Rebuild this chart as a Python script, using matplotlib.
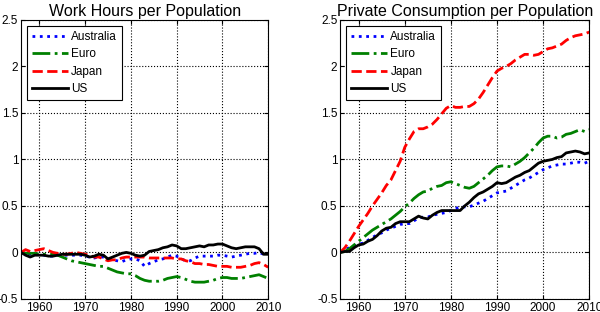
import matplotlib
matplotlib.use('Agg')
import matplotlib.pyplot as plt
import numpy as np

plt.rcParams['font.family'] = ['Liberation Sans', 'DejaVu Sans']

years = np.arange(1956, 2011)

# work hours per population (log deviation from 1956)
hours_aus = [0.0, -0.01, -0.02, -0.02, -0.02, -0.03, -0.04, -0.04, -0.03, -0.03,
             -0.03, -0.03, -0.03, -0.03, -0.04, -0.05, -0.06, -0.05, -0.05, -0.06,
             -0.08, -0.09, -0.1, -0.08, -0.07, -0.07, -0.09, -0.15, -0.12, -0.1,
             -0.08, -0.07, -0.05, -0.03, -0.04, -0.07, -0.09, -0.09, -0.06, -0.04,
             -0.04, -0.04, -0.04, -0.03, -0.03, -0.04, -0.05, -0.04, -0.03, -0.02,
             -0.01, -0.01, 0.0, -0.02, -0.02]
hours_euro = [0.0, -0.01, -0.01, -0.01, -0.02, -0.02, -0.02, -0.02, -0.03, -0.05,
              -0.07, -0.09, -0.1, -0.11, -0.12, -0.13, -0.14, -0.15, -0.15, -0.17,
              -0.19, -0.21, -0.22, -0.23, -0.23, -0.25, -0.28, -0.3, -0.31, -0.31,
              -0.31, -0.3, -0.28, -0.27, -0.26, -0.27, -0.29, -0.31, -0.32, -0.32,
              -0.32, -0.31, -0.3, -0.28, -0.27, -0.27, -0.28, -0.28, -0.28, -0.27,
              -0.26, -0.25, -0.24, -0.26, -0.28]
hours_jpn = [0.0, 0.03, 0.01, 0.02, 0.03, 0.04, 0.02, 0.0, -0.01, -0.02,
             -0.02, -0.01, 0.0, -0.01, -0.02, -0.03, -0.05, -0.05, -0.07, -0.09,
             -0.08, -0.08, -0.06, -0.05, -0.05, -0.05, -0.05, -0.05, -0.06, -0.06,
             -0.06, -0.06, -0.06, -0.06, -0.07, -0.07, -0.09, -0.1, -0.12, -0.12,
             -0.13, -0.13, -0.14, -0.15, -0.15, -0.15, -0.16, -0.16, -0.16, -0.15,
             -0.14, -0.12, -0.11, -0.13, -0.16]
hours_us = [0.0, -0.03, -0.05, -0.03, -0.03, -0.03, -0.04, -0.04, -0.03, -0.02,
            -0.02, -0.02, -0.02, -0.02, -0.03, -0.05, -0.04, -0.02, -0.03, -0.07,
            -0.05, -0.03, -0.01, 0.0, -0.01, -0.03, -0.04, -0.03, 0.01, 0.02,
            0.03, 0.05, 0.06, 0.08, 0.07, 0.04, 0.04, 0.05, 0.06, 0.07,
            0.06, 0.08, 0.08, 0.09, 0.09, 0.07, 0.05, 0.04, 0.05, 0.06,
            0.06, 0.06, 0.04, -0.02, -0.02]

# private consumption per population
cons_aus = [0.0, 0.03, 0.05, 0.07, 0.09, 0.1, 0.13, 0.16, 0.19, 0.21,
            0.24, 0.26, 0.28, 0.3, 0.31, 0.31, 0.34, 0.37, 0.38, 0.38,
            0.4, 0.41, 0.42, 0.43, 0.45, 0.47, 0.49, 0.49, 0.49, 0.51,
            0.53, 0.55, 0.58, 0.61, 0.64, 0.65, 0.66, 0.69, 0.72, 0.75,
            0.78, 0.8, 0.83, 0.86, 0.89, 0.91, 0.93, 0.94, 0.95, 0.95,
            0.96, 0.97, 0.97, 0.96, 0.98]
cons_euro = [0.0, 0.01, 0.04, 0.08, 0.12, 0.16, 0.2, 0.24, 0.27, 0.3,
             0.33, 0.36, 0.4, 0.44, 0.49, 0.53, 0.58, 0.62, 0.65, 0.66,
             0.69, 0.71, 0.72, 0.75, 0.76, 0.74, 0.72, 0.7, 0.69, 0.71,
             0.75, 0.79, 0.83, 0.88, 0.92, 0.93, 0.93, 0.92, 0.95, 0.98,
             1.02, 1.07, 1.12, 1.18, 1.23, 1.25, 1.25, 1.23, 1.24, 1.27,
             1.28, 1.3, 1.32, 1.3, 1.32]
cons_jpn = [0.0, 0.05, 0.12, 0.2, 0.28, 0.35, 0.42, 0.5, 0.57, 0.64,
            0.72, 0.78, 0.88, 0.98, 1.13, 1.22, 1.3, 1.33, 1.33, 1.35,
            1.38, 1.43, 1.49, 1.55, 1.58, 1.56, 1.56, 1.57, 1.57, 1.6,
            1.65, 1.72, 1.8, 1.88, 1.95, 1.98, 2.0, 2.03, 2.07, 2.1,
            2.13, 2.13, 2.12, 2.13, 2.16, 2.19, 2.2, 2.22, 2.24, 2.28,
            2.31, 2.33, 2.34, 2.35, 2.37]
cons_us = [0.0, 0.01, 0.01, 0.05, 0.08, 0.09, 0.12, 0.14, 0.18, 0.23,
           0.26, 0.27, 0.31, 0.33, 0.33, 0.33, 0.36, 0.39, 0.37, 0.36,
           0.4, 0.43, 0.45, 0.45, 0.45, 0.45, 0.45, 0.5, 0.54, 0.59,
           0.63, 0.65, 0.68, 0.71, 0.75, 0.74, 0.75, 0.78, 0.81, 0.83,
           0.86, 0.88, 0.92, 0.96, 0.98, 0.99, 1.0, 1.02, 1.03, 1.07,
           1.08, 1.09, 1.08, 1.06, 1.07]

labels = ['Australia', 'Euro', 'Japan', 'US']
titles = ['Work Hours per Population', 'Private Consumption per Population']
panels = [[hours_aus, hours_euro, hours_jpn, hours_us],
          [cons_aus, cons_euro, cons_jpn, cons_us]]

styles = [dict(color='#0000ff', ls=':', lw=2.0),
          dict(color='#008000', ls='-.', lw=2.0),
          dict(color='#ff0000', ls='--', lw=2.0),
          dict(color='#000000', ls='-', lw=2.0)]

fig = plt.figure(figsize=(6, 3.12), dpi=100)
positions = [[0.035, 0.042, 0.412, 0.894], [0.567, 0.042, 0.415, 0.894]]

for pos, title, series in zip(positions, titles, panels):
    ax = fig.add_axes(pos)
    for vals, lab, st in zip(series, labels, styles):
        ax.plot(years, vals, label=lab, **st)
    ax.set_xlim(1956, 2010)
    ax.set_ylim(-0.5, 2.5)
    ax.set_xticks([1960, 1970, 1980, 1990, 2000, 2010])
    ax.set_yticks([-0.5, 0, 0.5, 1, 1.5, 2, 2.5])
    ax.set_yticklabels(['-0.5', '0', '0.5', '1', '1.5', '2', '2.5'])
    ax.grid(True, color='black', ls=':', lw=0.8)
    ax.tick_params(direction='in', labelsize=8.5, length=3, pad=2,
                   top=True, right=True)
    for sp in ax.spines.values():
        sp.set_linewidth(0.8)
    ax.set_title(title, fontsize=11.5, pad=3)
    leg = ax.legend(loc='upper left', fontsize=8.5, handlelength=3.0,
                    fancybox=False, framealpha=1, edgecolor='black',
                    borderaxespad=0.5, labelspacing=0.45, handletextpad=0.3,
                    borderpad=0.45)
    leg.get_frame().set_linewidth(0.8)

fig.savefig('out.png', dpi=100)
